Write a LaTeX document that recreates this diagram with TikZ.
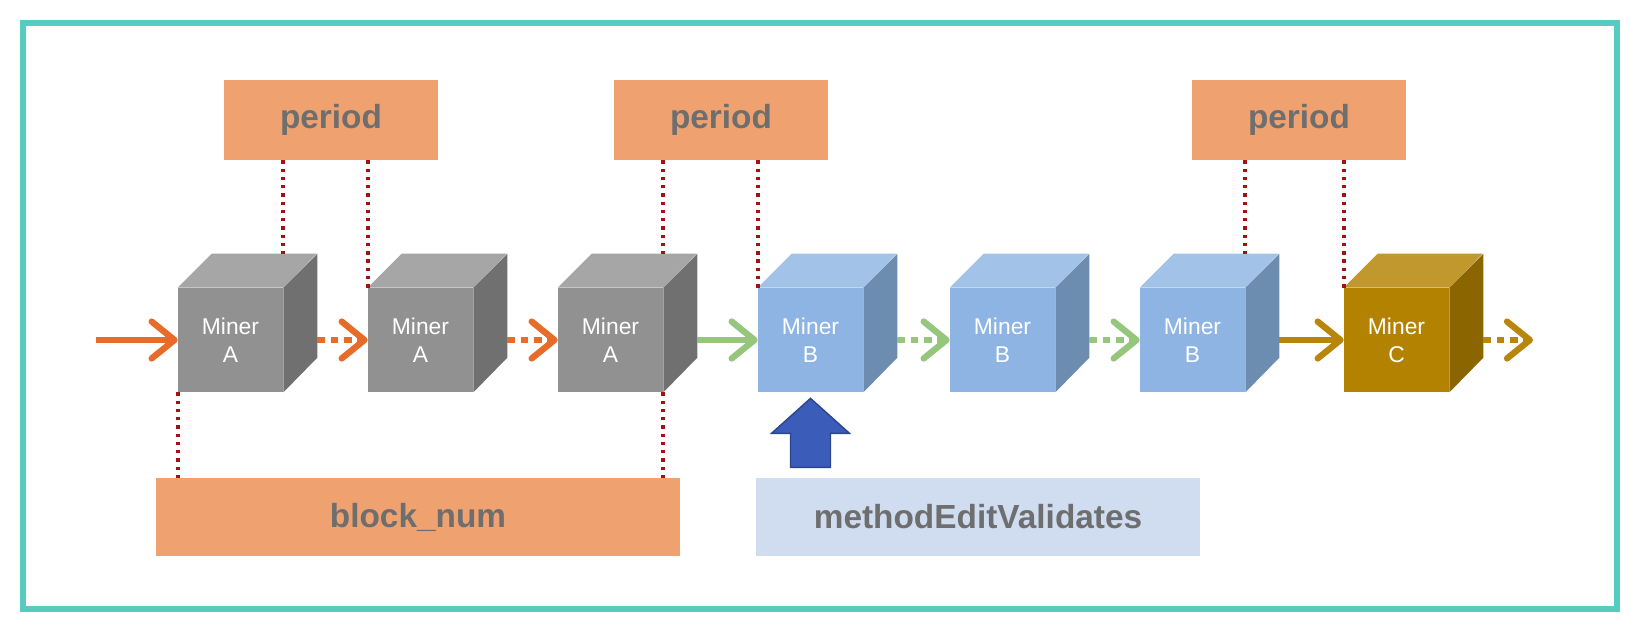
\documentclass[tikz,border=0pt]{standalone}
\usepackage{fontspec}
\setmainfont{Liberation Sans}
\usepackage{tikz}
\usetikzlibrary{positioning}
\usetikzlibrary{arrows.meta}

\definecolor{frame}{HTML}{56CCC1}
\definecolor{boxorange}{HTML}{EFA270}
\definecolor{boxblue}{HTML}{D0DCF0}
\definecolor{labelgray}{HTML}{6E6E6E}
\definecolor{dotred}{HTML}{A31212}
\definecolor{linkorange}{HTML}{E76B29}
\definecolor{linkgreen}{HTML}{95C67B}
\definecolor{linkgold}{HTML}{B8860B}
\definecolor{grayfront}{HTML}{919191}
\definecolor{graytop}{HTML}{A6A6A6}
\definecolor{grayside}{HTML}{707070}
\definecolor{bluefront}{HTML}{8EB4E3}
\definecolor{bluetop}{HTML}{A3C2E8}
\definecolor{blueside}{HTML}{6C8DB0}
\definecolor{goldfront}{HTML}{B28200}
\definecolor{goldtop}{HTML}{C1982D}
\definecolor{goldside}{HTML}{8A6500}
\definecolor{pushblue}{HTML}{3B5CB8}
\definecolor{pushedge}{HTML}{2B4790}

\tikzset{
  tagbox/.style={fill=#1, text=labelgray, font=\bfseries\fontsize{19}{22}\selectfont, inner sep=0pt},
  periodbox/.style={tagbox=boxorange, minimum width=4.28cm, minimum height=1.6cm},
  miner/.style={fill=#1front, text=white, font=\fontsize{13}{16}\selectfont, align=center,
    minimum width=2.1cm, minimum height=2.08cm, inner sep=0pt},
  chain/.style={line width=3.6pt, draw=#1, -{Straight Barb[round,length=13pt,width=21pt]}},
  chaindots/.style={chain=#1, dash pattern=on 4.5pt off 3pt},
  periodline/.style={draw=dotred, line width=2.2pt, dash pattern=on 1.9pt off 2.8pt},
}

\newcommand{\minerblock}[4]{%
  \node[miner=#4] (#1) at (#2,340) {Miner\\#3};
  \fill[#4top] (#1.north west) -- ++(34,-34) -- ++(105,0) -- (#1.north east) -- cycle;
  \fill[#4side] (#1.north east) -- ++(34,-34) -- ++(0,104) -- (#1.south east) -- cycle;
  \coordinate (#1-back) at ([xshift=0.68cm]#1.east);
}

\begin{document}
\begin{tikzpicture}[x=0.02cm,y=-0.02cm]
        \useasboundingbox (0,0) rectangle (1638,630);
        \draw[frame, line width=3.4pt] (23,23) rectangle (1617,609);

        \node[periodbox] (P1) at (331,120) {period};
        \node[periodbox] (P2) at (721,120) {period};
        \node[periodbox] (P3) at (1299,120) {period};

        \minerblock{A1}{230.5}{A}{gray}
        \minerblock{A2}{420.5}{A}{gray}
        \minerblock{A3}{610.5}{A}{gray}
        \minerblock{B1}{810.5}{B}{blue}
        \minerblock{B2}{1002.5}{B}{blue}
        \minerblock{B3}{1192.5}{B}{blue}
        \minerblock{C1}{1396.5}{C}{gold}

        \node[tagbox=boxorange, minimum width=10.48cm, minimum height=1.56cm] (N) at (418,517) {block\_num};
        \node[tagbox=boxblue, minimum width=8.88cm, minimum height=1.56cm] (M) at (978,517) {methodEditValidates};

        \draw[periodline] (P1.south -| A1.east) -- ([yshift=0.68cm]A1.north east);
        \draw[periodline] (P1.south -| A2.west) -- (A2.north west);
        \draw[periodline] (P2.south -| A3.east) -- ([yshift=0.68cm]A3.north east);
        \draw[periodline] (P2.south -| B1.west) -- (B1.north west);
        \draw[periodline] (P3.south -| B3.east) -- ([yshift=0.68cm]B3.north east);
        \draw[periodline] (P3.south -| C1.west) -- (C1.north west);
        \draw[periodline] (A1.south west) -- (A1.south west |- N.north);
        \draw[periodline] (A3.south east) -- (A3.south east |- N.north);

        \coordinate (start) at (96,340);
        \coordinate (end) at (1533,340);
        \draw[chain=linkorange] (start) -- (A1.west);
        \draw[chaindots=linkorange] (A1-back) -- (A2.west);
        \draw[chaindots=linkorange] (A2-back) -- (A3.west);
        \draw[chain=linkgreen] (A3-back) -- (B1.west);
        \draw[chaindots=linkgreen] (B1-back) -- (B2.west);
        \draw[chaindots=linkgreen] (B2-back) -- (B3.west);
        \draw[chain=linkgold] (B3-back) -- (C1.west);
        \draw[chaindots=linkgold] (C1-back) -- (end);

        \draw[fill=pushblue, draw=pushedge, line width=0.8pt] ([yshift=-0.12cm]B1.south) -- ++(39,35) -- ++(-19,0)
          -- ++(0,34) -- ++(-40,0) -- ++(0,-34) -- ++(-19,0) -- cycle;
      \end{tikzpicture}
\end{document}
